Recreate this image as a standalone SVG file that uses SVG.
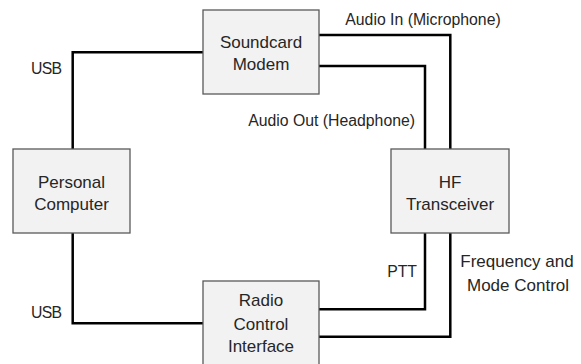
<svg xmlns="http://www.w3.org/2000/svg" width="581" height="364" viewBox="0 0 581 364">
<style>
.box{fill:#f2f2f2;stroke:#595959;stroke-width:1.3}
.t{font-family:"Liberation Sans",Arial,sans-serif;font-size:17px;fill:#262626;text-anchor:middle}
.l{font-family:"Liberation Sans",Arial,sans-serif;font-size:15.8px;fill:#262626}
.w{fill:none;stroke:#000;stroke-width:2.5;stroke-linejoin:miter}
</style>
<rect width="581" height="364" fill="#fff"/>
<g id="connectors">
<polyline class="w" points="72.7,149 72.7,52.3 203,52.3"/>
<polyline class="w" points="72.7,233 72.7,323.3 203,323.3"/>
<polyline class="w" points="319,35 450.3,35 450.3,149"/>
<polyline class="w" points="319,66 425,66 425,149"/>
<polyline class="w" points="425,233 425,309.3 319,309.3"/>
<polyline class="w" points="450.3,233 450.3,336.7 319,336.7"/>
</g>
<g id="soundcard">
<rect class="box" x="203" y="10" width="116" height="84"/>
<text class="t" x="261" y="47.5">Soundcard</text>
<text class="t" x="261" y="70">Modem</text>
</g>
<g id="pc">
<rect class="box" x="13" y="149" width="117" height="84"/>
<text class="t" x="71.5" y="187.5">Personal</text>
<text class="t" x="71.5" y="210">Computer</text>
</g>
<g id="hf">
<rect class="box" x="391" y="149" width="118" height="84"/>
<text class="t" x="450" y="187.5">HF</text>
<text class="t" x="450" y="210">Transceiver</text>
</g>
<g id="rci">
<rect class="box" x="203" y="281" width="116" height="90"/>
<text class="t" x="261" y="306">Radio</text>
<text class="t" x="261" y="329.5">Control</text>
<text class="t" x="261" y="352">Interface</text>
</g>
<g id="labels">
<text class="l" x="31" y="74" textLength="31">USB</text>
<text class="l" x="31" y="318" textLength="31">USB</text>
<text class="l" x="423" y="25" text-anchor="middle">Audio In (Microphone)</text>
<text class="l" x="415" y="126" text-anchor="end">Audio Out (Headphone)</text>
<text class="l" x="417" y="276.5" text-anchor="end">PTT</text>
<text class="t" x="517" y="267">Frequency and</text>
<text class="t" x="518" y="291">Mode Control</text>
</g>
</svg>
